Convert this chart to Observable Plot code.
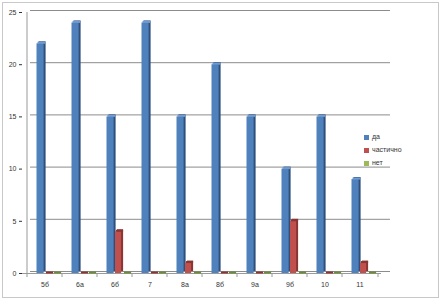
<!DOCTYPE html>
<html><head><meta charset="utf-8">
<script src="https://cdn.jsdelivr.net/npm/d3@7"></script>
<script src="https://cdn.jsdelivr.net/npm/@observablehq/plot@0.6"></script>
<style>
body{margin:0;background:#fff;font-family:"Liberation Sans",Arial,sans-serif;}
#wrap{position:relative;width:441px;height:300px;}
#frame{position:absolute;left:2px;top:2px;width:435px;height:294px;border:1px solid #c8c8c8;pointer-events:none;}
#legend{position:absolute;left:364px;top:130px;font-size:7px;color:#333;line-height:13px;}
#legend span.sw{display:inline-block;width:5px;height:5px;margin-right:3px;vertical-align:middle;}
</style></head><body>
<div id="wrap"><div id="frame"></div><div id="legend"></div></div>
<script>
const categories = ["5б","6а","6б","7","8а","8б","9а","9б","10","11"];
const seriesNames = ["да","частично","нет"];
const da = [22,24,15,24,15,20,15,10,15,9];
const chastichno = [0,0,4,0,1,0,0,5,0,1];
const net = [0,0,0,0,0,0,0,0,0,0];
const yTicks = [0,5,10,15,20,25];
const colors = ["#4F81BD","#C0504D","#9BBB59"];
const darks = ["#30507c","#8a3532","#6c8a3a"];
const lights = ["#6f9bd2","#d77471","#b5d07f"];

const seriesValues = [da, chastichno, net];
const insets = [[9.5,18.4],[18,10.9],[26,2.9]];

const marks = [
  Plot.ruleY(yTicks, {y: d => d, dy: -2, insetLeft: 8, insetRight: -9, stroke: "#8c8c8c", strokeWidth: 1}),
  Plot.ruleX([0], {x: () => categories[0], dx: -18, y1: 0, y2: 25, stroke: "#999"}),
  Plot.ruleY([0], {stroke: "#999"}),
  Plot.ruleX(categories, {x: d => d, dx: -18, y1: 0, y2: 0, insetBottom: -4, stroke: "#999"}),
  Plot.ruleX([categories[categories.length - 1]], {x: d => d, dx: 18, y1: 0, y2: 0, insetBottom: -4, stroke: "#999"})
];
seriesValues.forEach((vals, i) => {
  const data = categories.map((c, j) => ({cat: c, v: vals[j]}));
  const [il, ir] = insets[i];
  marks.push(Plot.barY(data, {x: "cat", y: "v", fill: darks[i], insetLeft: il, insetRight: ir, dx: 2, dy: -2}));
  marks.push(Plot.barY(data, {x: "cat", y: "v", fill: colors[i], insetLeft: il, insetRight: ir}));
  marks.push(Plot.tickY(data, {x: "cat", y: "v", stroke: i === 0 ? lights[i] : darks[i], strokeWidth: 2, insetLeft: il + 1, insetRight: ir - 2, dy: -1}));
});

const chart = Plot.plot({
  width: 441, height: 300,
  marginLeft: 22, marginRight: 60, marginTop: 12, marginBottom: 27,
  style: {fontFamily: "Liberation Sans, Arial, sans-serif", fontSize: "7px", color: "#333", background: "transparent"},
  x: {domain: categories, padding: 0, label: null, tickSize: 0, tickPadding: 9},
  y: {domain: [0, 25], ticks: yTicks, label: null, tickSize: 3, tickPadding: 3, tickFormat: d => d},
  marks
});
document.getElementById("wrap").prepend(chart);
const leg = document.getElementById("legend");
seriesNames.forEach((s, i) => {
  const div = document.createElement("div");
  div.innerHTML = `<span class="sw" style="background:${colors[i]}"></span>${s}`;
  leg.appendChild(div);
});
</script>
</body></html>
